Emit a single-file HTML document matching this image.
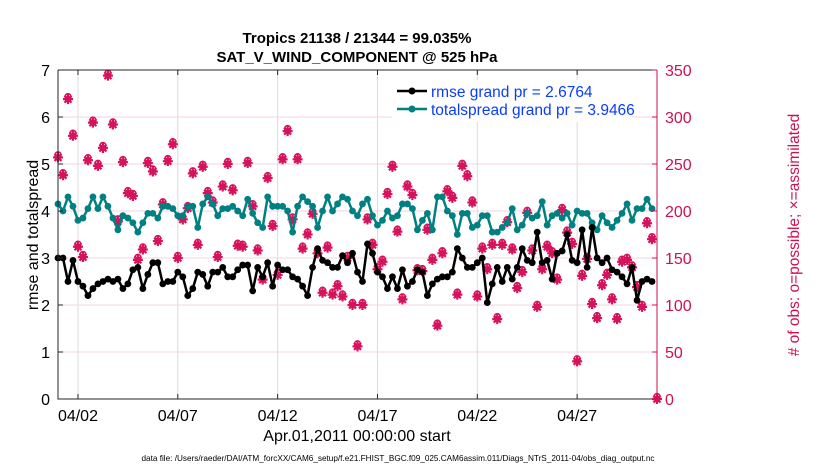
<!DOCTYPE html>
<html><head><meta charset="utf-8"><style>
body{margin:0;background:#fff;}
svg{display:block;font-family:"Liberation Sans",Arial,sans-serif;}
</style></head><body>
<svg id="chart" width="830" height="470" viewBox="0 0 830 470">
<g id="grid"></g>
<g id="series"></g>
<g id="axes"></g>
<text x="357" y="43" text-anchor="middle" font-size="15" font-weight="bold">Tropics 21138 / 21344 = 99.035%</text>
<text x="357" y="62" text-anchor="middle" font-size="15" font-weight="bold">SAT_V_WIND_COMPONENT @ 525 hPa</text>
<text x="357" y="441" text-anchor="middle" font-size="16">Apr.01,2011 00:00:00 start</text>
<text transform="translate(38,235) rotate(-90)" text-anchor="middle" font-size="16">rmse and totalspread</text>
<text transform="translate(799,235) rotate(-90)" text-anchor="middle" font-size="15.5" fill="#d0104f"># of obs: o=possible; ×=assimilated</text>
<text x="398" y="461" text-anchor="middle" font-size="8.2">data file: /Users/raeder/DAI/ATM_forcXX/CAM6_setup/f.e21.FHIST_BGC.f09_025.CAM6assim.011/Diags_NTrS_2011-04/obs_diag_output.nc</text>
<g>
<rect x="392" y="80" width="240" height="42" fill="#fff"/>
<g>
<line x1="397" y1="91" x2="427" y2="91" stroke="#000" stroke-width="2.5"/><circle cx="412" cy="91" r="3.5" fill="#000"/>
<text x="431" y="97" font-size="15.5" fill="#0a3cff">rmse grand pr = 2.6764</text></g>
<g>
<line x1="397" y1="109" x2="427" y2="109" stroke="#008080" stroke-width="2.5"/><circle cx="412" cy="109" r="3.5" fill="#008080"/>
<text x="431" y="115" font-size="15.5" fill="#0a3cff">totalspread grand pr = 3.9466</text></g>
</g>
</svg>
<script>
const rmse=[3.0,3.0,2.5,2.95,2.5,2.4,2.2,2.35,2.45,2.5,2.55,2.5,2.55,2.35,2.45,2.75,2.8,2.35,2.65,2.9,2.9,2.45,2.5,2.5,2.7,2.6,2.2,2.35,2.7,2.65,2.4,2.7,2.7,2.8,2.6,2.6,2.75,2.85,2.85,2.3,2.8,2.6,2.9,2.4,2.85,2.75,2.75,2.6,2.55,2.4,2.2,2.8,3.2,2.95,2.9,2.8,2.8,3.05,2.9,3.1,2.7,2.5,3.3,3.1,2.7,2.6,2.35,2.6,2.35,2.75,2.4,2.5,2.75,2.7,2.2,2.45,2.55,2.6,2.6,2.7,3.2,3.0,2.8,2.8,2.9,3.0,2.05,2.45,2.8,2.5,2.8,2.55,2.8,3.2,2.95,2.9,3.55,2.9,2.95,2.55,3.1,3.15,3.5,2.95,2.9,3.6,2.8,3.65,3.0,2.9,3.0,2.75,2.7,2.6,2.45,2.8,2.1,2.5,2.55,2.5];
const spread=[4.15,4.0,4.3,4.1,3.8,3.85,4.05,4.3,4.05,4.3,4.1,3.85,3.6,3.9,3.85,3.75,3.55,3.75,3.95,3.95,3.85,4.1,4.1,4.05,3.9,3.9,4.1,4.1,3.65,4.15,4.3,4.15,3.9,4.05,4.05,4.1,4.0,3.9,4.25,3.95,3.75,3.65,4.3,4.1,4.1,4.1,4.0,3.55,4.1,4.3,4.2,4.1,3.65,4.0,4.3,4.0,4.15,4.3,4.25,4.0,3.9,4.15,4.25,3.9,3.7,3.8,4.0,3.85,3.9,4.15,4.15,4.05,3.6,3.8,3.95,3.6,4.3,4.3,4.0,3.9,3.5,3.95,3.95,3.65,3.7,3.9,3.9,3.55,3.55,3.65,3.75,4.05,3.6,3.7,3.95,3.85,3.9,4.2,3.7,3.9,3.95,3.85,3.95,3.7,4.0,3.95,3.95,3.75,3.6,3.9,3.75,3.65,3.8,3.95,4.15,3.8,4.05,4.05,4.25,4.05];
const obsCount=[257,238,319,280,162,151,254,294,248,267,344,292,189,252,219,216,148,159,251,242,168,207,253,271,150,191,203,240,164,247,219,209,151,226,250,222,163,162,251,205,158,127,235,184,132,255,285,191,255,160,175,197,155,113,161,111,120,109,150,100,56,100,191,164,138,146,218,247,178,106,226,217,137,136,180,148,78,155,221,214,111,248,237,209,109,160,138,164,85,164,188,159,118,135,198,158,98,138,162,155,127,201,177,165,40,131,149,101,86,121,132,106,85,146,148,140,119,98,187,170,0];
const dateTicks=["04/02","04/07","04/12","04/17","04/22","04/27"];
const dateTickDays=[1,6,11,16,21,26];
const leftTicks=[0,1,2,3,4,5,6,7];
const rightTicks=[0,50,100,150,200,250,300,350];

const X0=58,X1=657,Y0=399,Y1=70,DAYS=30;
const sx=d=>X0+(X1-X0)*d/DAYS;
const sxi=i=>sx(i*0.25);
const syL=v=>Y0-(Y0-Y1)*v/7;
const syR=v=>Y0-(Y0-Y1)*v/350;
const NS="http://www.w3.org/2000/svg";
function mk(tag,attrs,parent){const e=document.createElementNS(NS,tag);for(const k in attrs)e.setAttribute(k,attrs[k]);parent.appendChild(e);return e;}
const grid=document.getElementById('grid'),series=document.getElementById('series'),axes=document.getElementById('axes');
const PINK='#d6125c';

rightTicks.forEach(v=>{if(v>0&&v<350){const l=mk('line',{x1:X0,x2:X1,y1:syR(v),y2:syR(v),stroke:'#f6d3df','stroke-width':1},grid);

}});
dateTickDays.forEach(d=>{const l=mk('line',{x1:sx(d),x2:sx(d),y1:Y1,y2:Y0,stroke:'#dcdcdc','stroke-width':1},grid);

});

obsCount.forEach((v,i)=>{if(v==null)return;const x=sxi(i),y=syR(v);
const g=mk('g',{},series);


mk('circle',{cx:x,cy:y-2.5,r:3,fill:'none',stroke:PINK,'stroke-width':1.5},g);
mk('path',{d:`M${x-5} ${y}H${x+5}M${x} ${y-5}V${y+5}M${x-3.5} ${y-3.5}L${x+3.5} ${y+3.5}M${x-3.5} ${y+3.5}L${x+3.5} ${y-3.5}`,stroke:PINK,'stroke-width':2.2},g);
mk('circle',{cx:x,cy:y,r:3.2,fill:PINK},g);});

function line(arr,color,name){
const p=mk('polyline',{points:arr.map((v,i)=>sxi(i)+','+syL(v)).join(' '),fill:'none',stroke:color,'stroke-width':2.5,'stroke-linejoin':'round'},series);


arr.forEach((v,i)=>{const c=mk('circle',{cx:sxi(i),cy:syL(v),r:3.4,fill:color},series);

});}
line(spread,'#008080','totalspread');
line(rmse,'#000','rmse');

const la=mk('path',{d:`M${X0} ${Y1}V${Y0}H${X1}`,fill:'none',stroke:'#262626','stroke-width':1},axes);


const ta=mk('line',{x1:X0,x2:X1,y1:Y1,y2:Y1,stroke:'#262626','stroke-width':1},axes);


const ra=mk('line',{x1:X1,x2:X1,y1:Y1,y2:Y0,stroke:'#d0104f','stroke-width':1},axes);


leftTicks.forEach(v=>{mk('line',{x1:X0,x2:X0+5,y1:syL(v),y2:syL(v),stroke:'#262626'},axes);
const t=mk('text',{x:X0-8,y:syL(v)+6,'text-anchor':'end','font-size':16},axes);t.textContent=v;

});
rightTicks.forEach(v=>{mk('line',{x1:X1-5,x2:X1,y1:syR(v),y2:syR(v),stroke:'#d0104f'},axes);
const t=mk('text',{x:X1+8,y:syR(v)+6,'font-size':16,fill:'#d0104f'},axes);t.textContent=v;

});
dateTicks.forEach((s,i)=>{const x=sx(dateTickDays[i]);mk('line',{x1:x,x2:x,y1:Y0,y2:Y0-5,stroke:'#262626'},axes);
mk('line',{x1:x,x2:x,y1:Y1,y2:Y1+5,stroke:'#262626'},axes);
const t=mk('text',{x:x,y:Y0+22,'text-anchor':'middle','font-size':16},axes);t.textContent=s;

});
</script>
</body></html>
